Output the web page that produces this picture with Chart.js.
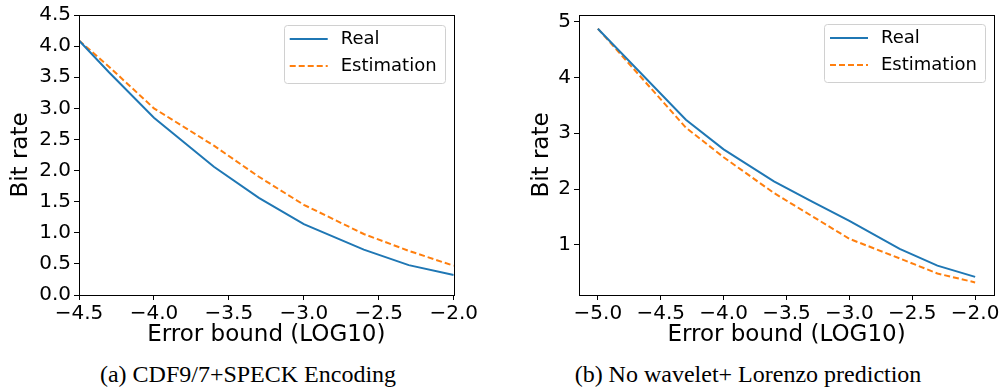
<!DOCTYPE html>
<html>
<head>
<meta charset="utf-8">
<script src="https://cdn.jsdelivr.net/npm/chart.js@4/dist/chart.umd.min.js"></script>
<style>
  body { margin: 0; background: #fff; width: 1003px; height: 391px; position: relative; overflow: hidden; }
  canvas { position: absolute; top: 0; }
  #c1 { left: 0; }
  #c2 { left: 510px; }
  .caption { position: absolute; top: 362px; font-family: "Liberation Serif", serif; font-size: 24px; line-height: 24px; white-space: nowrap; transform: translateX(-50%); color: #000; }
</style>
</head>
<body>
<canvas id="c1" width="480" height="350"></canvas>
<canvas id="c2" width="493" height="350"></canvas>
<div class="caption" style="left:248px">(a) CDF9/7+SPECK Encoding</div>
<div class="caption" style="left:748px">(b) No wavelet+ Lorenzo prediction</div>
<script>
// datos (log10 del error vs bit rate)
const errLeft = [-4.5, -4.3, -4.0, -3.6, -3.3, -3.0, -2.6, -2.3, -2.0];
const realLeft = [4.09, 3.58, 2.85, 2.06, 1.56, 1.14, 0.73, 0.48, 0.32];
const estLeft = [4.09, 3.67, 3.00, 2.40, 1.90, 1.45, 0.98, 0.71, 0.47];

const errRight = [-5.0, -4.3, -4.0, -3.6, -3.3, -3.0, -2.6, -2.3, -2.0];
const realRight = [4.87, 3.24, 2.71, 2.14, 1.78, 1.43, 0.93, 0.63, 0.43];
const estRight = [4.87, 3.10, 2.57, 1.93, 1.52, 1.11, 0.76, 0.49, 0.33];

const seriesNames = ["Real", "Estimation"];
const xTitle = "Error bound (LOG10)";
const yTitle = "Bit rate";

Chart.defaults.font.family = "DejaVu Sans";
Chart.defaults.color = "#000";

function toPoints(xs, ys) {
  return xs.map((x, i) => ({ x: x, y: ys[i] }));
}

function fmtMinus(v, dec) {
  const s = Math.abs(v).toFixed(dec);
  return v < 0 ? "\u2212" + s : s;
}

// marco completo (spines de arriba y derecha)
const framePlugin = {
  id: "frame",
  afterDraw(chart) {
    const a = chart.chartArea;
    const ctx = chart.ctx;
    ctx.save();
    ctx.strokeStyle = "#000";
    ctx.lineWidth = 1;
    ctx.strokeRect(Math.round(a.left) + 0.5, Math.round(a.top) + 0.5, Math.round(a.right - a.left), Math.round(a.bottom - a.top));
    ctx.restore();
  }
};

// leyenda dentro del area, arriba a la derecha
const boxLegend = {
  id: "boxLegend",
  afterDatasetsDraw(chart, args, opts) {
    const ctx = chart.ctx;
    const a = chart.chartArea;
    const w = 161, h = 58;
    const x = a.right - opts.inset - w;
    const y = a.top + opts.insetTop;
    ctx.save();
    ctx.fillStyle = "rgba(255,255,255,0.8)";
    ctx.strokeStyle = "#d0d0d0";
    ctx.lineWidth = 1;
    ctx.beginPath();
    ctx.roundRect(Math.round(x) + 0.5, Math.round(y) + 0.5, w, h, 3);
    ctx.fill();
    ctx.stroke();
    ctx.font = "18px 'DejaVu Sans'";
    ctx.textBaseline = "middle";
    chart.data.datasets.forEach((ds, i) => {
      const ry = y + 14 + i * 27;
      ctx.strokeStyle = ds.borderColor;
      ctx.lineWidth = ds.borderWidth;
      ctx.setLineDash(ds.borderDash || []);
      ctx.beginPath();
      ctx.moveTo(x + 6, ry);
      ctx.lineTo(x + 44, ry);
      ctx.stroke();
      ctx.setLineDash([]);
      ctx.fillStyle = "#000";
      ctx.fillText(ds.label, x + 57, ry);
    });
    ctx.restore();
  }
};

function makeChart(id, xs, real, est, cfg) {
  const ctx = document.getElementById(id).getContext("2d");
  return new Chart(ctx, {
    type: "line",
    data: {
      datasets: [
        {
          label: seriesNames[0],
          data: toPoints(xs, real),
          borderColor: "#1f77b4",
          borderWidth: 2,
          pointRadius: 0,
          tension: 0,
          fill: false,
        },
        {
          label: seriesNames[1],
          data: toPoints(xs, est),
          borderColor: "#ff7f0e",
          borderWidth: 2,
          borderDash: [6, 3],
          pointRadius: 0,
          tension: 0,
          fill: false,
        },
      ],
    },
    options: {
      responsive: false,
      animation: false,
      devicePixelRatio: 1,
      layout: { padding: { top: cfg.padTop, right: cfg.padRight, left: 0, bottom: 0 } },
      plugins: {
        legend: { display: false },
        tooltip: { enabled: false },
        boxLegend: { inset: 9, insetTop: cfg.legendTop },
      },
      scales: {
        x: {
          type: "linear",
          min: cfg.xMin,
          max: cfg.xMax,
          afterFit: (s) => { s.height = 55; },
          ticks: {
            stepSize: 0.5,
            includeBounds: false,
            autoSkip: false,
            maxRotation: 0,
            padding: 2,
            font: { size: 20 },
            callback: (v) => fmtMinus(v, 1),
          },
          grid: { drawOnChartArea: false, drawTicks: true, tickLength: 5, color: "#000" },
          border: { display: true, color: "#000", width: 1 },
          title: { display: true, text: xTitle, font: { size: 23 }, padding: { top: 0, bottom: 1 } },
        },
        y: {
          min: cfg.yMin,
          max: cfg.yMax,
          afterFit: (s) => { s.width = cfg.yWidth; },
          ticks: {
            stepSize: cfg.yStep,
            includeBounds: false,
            autoSkip: false,
            padding: 3,
            font: { size: 20 },
            callback: (v) => v.toFixed(cfg.yDec),
          },
          grid: { drawOnChartArea: false, drawTicks: true, tickLength: 5, color: "#000" },
          border: { display: true, color: "#000", width: 1 },
          title: { display: true, text: yTitle, font: { size: 23 }, padding: { top: cfg.yTitlePad, bottom: 0 } },
        },
      },
    },
    plugins: [framePlugin, boxLegend],
  });
}

makeChart("c1", errLeft, realLeft, estLeft, {
  padTop: 11, padRight: 24, legendTop: 10,
  xMin: -4.5, xMax: -2.0,
  yMin: 0, yMax: 4.5, yStep: 0.5, yDec: 1,
  yWidth: 79, yTitlePad: 7,
});

makeChart("c2", errRight, realRight, estRight, {
  padTop: 5, padRight: 9, legendTop: 9,
  xMin: -5.15, xMax: -1.85,
  yMin: 0.105, yMax: 5.115, yStep: 1, yDec: 0,
  yWidth: 69, yTitlePad: 18,
});
</script>
</body>
</html>
